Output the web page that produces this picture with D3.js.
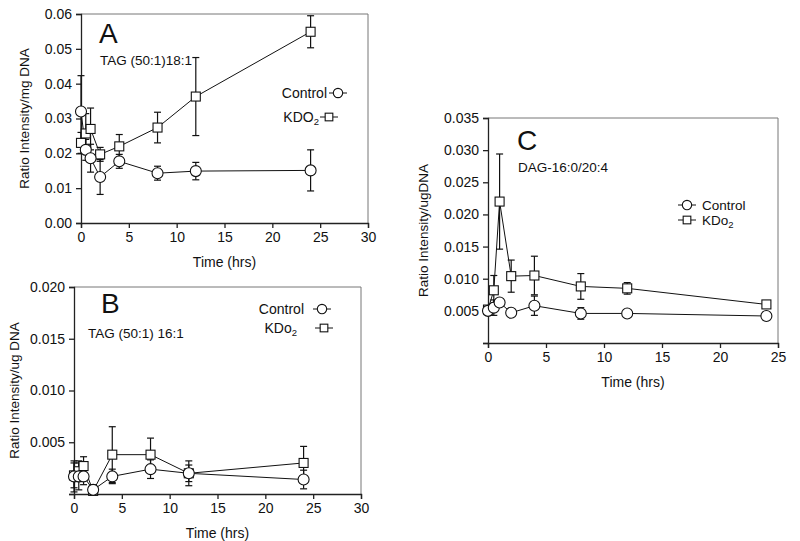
<!DOCTYPE html>
<html><head><meta charset="utf-8">
<script src="https://cdn.jsdelivr.net/npm/d3@7"></script>
<style>body{margin:0;background:#fff}svg{display:block}text{font-family:"Liberation Sans",Arial,sans-serif;fill:#111}</style>
</head><body><svg id="c" width="800" height="541"></svg>
<script>
const times = [0, 0.5, 1, 2, 4, 8, 12, 24];

const aControl = [0.032, 0.021, 0.0186, 0.0132, 0.0177, 0.0143, 0.0149, 0.0151];
const aControlErr = [0.0103, 0.003, 0.004, 0.005, 0.002, 0.002, 0.0025, 0.0059];
const aKdo = [0.023, 0.0257, 0.027, 0.0197, 0.022, 0.0274, 0.0363, 0.0549];
const aKdoErr = [0.003, 0.0057, 0.006, 0.002, 0.0034, 0.0044, 0.0112, 0.0046];

const bControl = [0.0017, 0.0017, 0.0017, 0.0004, 0.0017, 0.0024, 0.002, 0.0014];
const bControlErr = [0.0015, 0.0013, 0.0008, 0.0003, 0.0007, 0.0009, 0.0012, 0.0009];
const bKdo = [0.0018, 0.0022, 0.0027, 0.0003, 0.0038, 0.0038, 0.002, 0.003];
const bKdoErr = [0.0012, 0.001, 0.0009, 0.0006, 0.0027, 0.0016, 0.0008, 0.0016];

const cControl = [0.005, 0.0055, 0.0063, 0.0047, 0.0058, 0.0046, 0.0046, 0.0042];
const cControlErr = [0.0005, 0.0012, 0.0004, 0, 0.0015, 0.0009, 0.0002, 0];
const cKdo = [0.0052, 0.0082, 0.022, 0.0104, 0.0105, 0.0088, 0.0085, 0.006];
const cKdoErr = [0.0005, 0.0023, 0.0074, 0.0025, 0.003, 0.002, 0.0009, 0.0002];

const aYTicks = [0, 0.01, 0.02, 0.03, 0.04, 0.05, 0.06];
const bYTicks = [0, 0.005, 0.010, 0.015, 0.020];
const cYTicks = [0, 0.005, 0.010, 0.015, 0.020, 0.025, 0.030, 0.035];
const abXTicks = [0, 5, 10, 15, 20, 25, 30];
const cXTicks = [0, 5, 10, 15, 20, 25];

const svg = d3.select('#c');

function panel(o) {
  const g = svg.append('g');
  const x = d3.scaleLinear().domain(o.xDomain).range([o.x0, o.x1]);
  const y = d3.scaleLinear().domain(o.yDomain).range([o.yb, o.yt]);
  g.append('path').attr('d', `M${o.x0},${o.yt}H${o.x1}V${o.yb}`)
    .attr('fill', 'none').attr('stroke', '#777').attr('stroke-width', 1);
  const xa = g.append('g').attr('transform', `translate(0,${o.yb})`)
    .call(d3.axisBottom(x).tickValues(o.xTicks).tickSize(5).tickPadding(4).tickFormat(d3.format('d')));
  const ya = g.append('g').attr('transform', `translate(${o.x0},0)`)
    .call(d3.axisLeft(y).tickValues(o.yTicks).tickSize(5).tickPadding(4)
      .tickFormat(d => (o.hideZero && d === 0) ? '' : d3.format(o.yFmt)(d)));
  [xa, ya].forEach(a => {
    a.selectAll('path').attr('stroke', '#222').attr('stroke-width', 1.3);
    a.selectAll('line').attr('stroke', '#222').attr('stroke-width', 1.3);
    a.selectAll('text').attr('font-size', 14).attr('fill', '#111')
      .style('font-family', '"Liberation Sans",Arial,sans-serif');
  });
  g.append('text').attr('x', (o.x0 + o.x1) / 2).attr('y', o.yb + 44)
    .attr('text-anchor', 'middle').attr('font-size', 14).text('Time (hrs)');
  g.append('text').attr('transform', `translate(${o.ylabX},${(o.yt + o.yb) / 2}) rotate(-90)`)
    .attr('text-anchor', 'middle').attr('font-size', 13.5).text(o.ylab);
  g.append('text').attr('x', o.letter[0]).attr('y', o.letter[1]).attr('font-size', 28).text(o.letterText);
  g.append('text').attr('x', o.sub[0]).attr('y', o.sub[1]).attr('font-size', 13.5).text(o.subText);

  const series = [
    {vals: o.kdo, err: o.kdoErr, shape: 'square'},
    {vals: o.control, err: o.controlErr, shape: 'circle'}
  ];
  series.forEach(s => {
    const pts = times.map((t, i) => ({t, v: s.vals[i], e: s.err[i]}));
    g.append('path').datum(pts)
      .attr('d', d3.line().x(d => x(d.t)).y(d => y(d.v)))
      .attr('fill', 'none').attr('stroke', '#111').attr('stroke-width', 1);
    const eb = g.append('g');
    pts.filter(d => d.e > 0).forEach(d => {
      const cx = x(d.t), y1 = y(d.v + d.e), y2 = y(Math.max(0, d.v - d.e));
      eb.append('line').attr('x1', cx).attr('x2', cx).attr('y1', y1).attr('y2', y2)
        .attr('stroke', '#111').attr('stroke-width', 1.2);
      [y1, y2].forEach(yy => eb.append('line').attr('x1', cx - 3.5).attr('x2', cx + 3.5)
        .attr('y1', yy).attr('y2', yy).attr('stroke', '#111').attr('stroke-width', 1.2));
    });
  });
  series.forEach(s => {
    const pts = times.map((t, i) => ({t, v: s.vals[i]}));
    pts.forEach(d => drawMarker(g, s.shape, x(d.t), y(d.v)));
  });
  o.legend.forEach(L => {
    g.append('line').attr('x1', L.sx - 9).attr('x2', L.sx + 9).attr('y1', L.y).attr('y2', L.y)
      .attr('stroke', '#111').attr('stroke-width', 1);
    drawMarker(g, L.shape, L.sx, L.y, true);
    const t = g.append('text').attr('x', L.tx).attr('y', L.y + 5).attr('font-size', L.fs || 14)
      .attr('text-anchor', L.anchor || 'start');
    t.append('tspan').text(L.label);
    if (L.sub) t.append('tspan').attr('dy', 3).attr('font-size', 9.5).text(L.sub);
  });
}

function drawMarker(g, shape, cx, cy, small) {
  const s = small ? 0.85 : 1;
  if (shape === 'circle') {
    g.append('circle').attr('cx', cx).attr('cy', cy).attr('r', 5.5 * s)
      .attr('fill', '#fff').attr('stroke', '#111').attr('stroke-width', 1.1);
  } else {
    const h = 4.5 * s;
    g.append('rect').attr('x', cx - h).attr('y', cy - h).attr('width', 2 * h).attr('height', 2 * h)
      .attr('fill', '#fff').attr('stroke', '#111').attr('stroke-width', 1.1);
  }
}

panel({
  x0: 81, x1: 368, yt: 14, yb: 223, xDomain: [0, 30], yDomain: [0, 0.06],
  xTicks: abXTicks, yTicks: aYTicks, yFmt: '.2f', hideZero: false,
  control: aControl, controlErr: aControlErr, kdo: aKdo, kdoErr: aKdoErr,
  ylab: 'Ratio Intensity/mg DNA', ylabX: 29,
  letter: [99, 43], letterText: 'A', sub: [100, 65], subText: 'TAG (50:1)18:1',
  legend: [
    {shape: 'circle', sx: 338, y: 93, tx: 327, label: 'Control', anchor: 'end'},
    {shape: 'square', sx: 329, y: 117, tx: 319, label: 'KDO', sub: '2', anchor: 'end'}
  ]
});

panel({
  x0: 74, x1: 361, yt: 287, yb: 494, xDomain: [0, 30], yDomain: [0, 0.02],
  xTicks: abXTicks, yTicks: bYTicks, yFmt: '.3f', hideZero: true,
  control: bControl, controlErr: bControlErr, kdo: bKdo, kdoErr: bKdoErr,
  ylab: 'Ratio Intensity/ug DNA', ylabX: 19,
  letter: [101, 313], letterText: 'B', sub: [88, 338], subText: 'TAG (50:1) 16:1',
  legend: [
    {shape: 'circle', sx: 322, y: 309, tx: 304, label: 'Control', anchor: 'end'},
    {shape: 'square', sx: 324, y: 328, tx: 297, label: 'KDo', sub: '2', anchor: 'end'}
  ]
});

panel({
  x0: 488, x1: 778, yt: 118, yb: 343, xDomain: [0, 25], yDomain: [0, 0.035],
  xTicks: cXTicks, yTicks: cYTicks, yFmt: '.3f', hideZero: true,
  control: cControl, controlErr: cControlErr, kdo: cKdo, kdoErr: cKdoErr,
  ylab: 'Ratio Intensity/ugDNA', ylabX: 428,
  letter: [517, 150], letterText: 'C', sub: [518, 172], subText: 'DAG-16:0/20:4',
  legend: [
    {shape: 'circle', sx: 687, y: 205, tx: 702, label: 'Control', fs: 13.5},
    {shape: 'square', sx: 687, y: 220, tx: 702, label: 'KDo', sub: '2', fs: 13.5}
  ]
});
</script></body></html>
